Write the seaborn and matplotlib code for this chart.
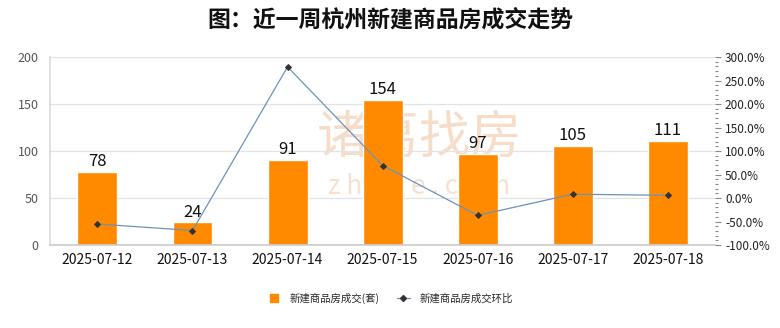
import numpy as np
import pandas as pd
import matplotlib
matplotlib.use("Agg")
import matplotlib.pyplot as plt
from matplotlib.lines import Line2D
from matplotlib.ticker import MultipleLocator, FuncFormatter
import seaborn as sns

dates = ["2025-07-12", "2025-07-13", "2025-07-14", "2025-07-15",
         "2025-07-16", "2025-07-17", "2025-07-18"]
deals = [78, 24, 91, 154, 97, 105, 111]
change_pct = [-55.2, -69.2, 279.2, 69.2, -37.0, 8.2, 5.7]

bar_label = "新建商品房成交(套)"
line_label = "新建商品房成交环比"
title = "图：近一周杭州新建商品房成交走势"

sns.set_theme(style="white")
plt.rcParams["font.family"] = ["Noto Sans CJK SC", "DejaVu Sans"]

df = pd.DataFrame({"date": dates, "deals": deals, "pct": change_pct})

fig = plt.figure(figsize=(7.8, 3.28), dpi=100)
ax = fig.add_axes([0.064, 0.253, 0.853, 0.573])

bar_color = "#FF8A00"
line_color = "#6A93BE"

# faint site watermark behind the bars
ax.text(0.555, 0.57, "诸葛找房", transform=ax.transAxes, ha="center", va="center",
        fontsize=37, color="#F6DDCA", zorder=0)
ax.text(0.555, 0.31, "z h u g e . c o m", transform=ax.transAxes, ha="center",
        va="center", fontsize=19, color="#F6E0D0", zorder=0)

sns.barplot(data=df, x="date", y="deals", color=bar_color, saturation=1,
            width=0.42, ax=ax, zorder=2)
for i, v in enumerate(deals):
    ax.text(i, v + 2, str(v), ha="center", va="bottom", fontsize=12,
            color="#111111", zorder=5)

ax.set_ylim(0, 200)
ax.set_xlim(-0.5, len(dates) - 0.5)
ax.yaxis.set_major_locator(MultipleLocator(50))
ax.grid(axis="y", color="#E3E3E3", linewidth=0.9, zorder=0)
ax.set_axisbelow(True)
ax.set_xlabel("")
ax.set_ylabel("")
for s in ["top", "right"]:
    ax.spines[s].set_visible(False)
ax.spines["left"].set_color("#DDDDDD")
ax.spines["bottom"].set_color("#CCCCCC")
ax.tick_params(axis="y", labelsize=9, labelcolor="#555555", length=0, pad=8)
ax.tick_params(axis="x", labelsize=10, labelcolor="#111111", length=0, pad=6)

ax2 = ax.twinx()
sns.lineplot(x=np.arange(len(dates)), y=change_pct, ax=ax2, color=line_color,
             linewidth=0.9, marker="D", markersize=3.0, markerfacecolor="#333333",
             markeredgecolor="#333333", zorder=6)
ax2.set_xlim(-0.5, len(dates) - 0.5)
ax2.set_ylim(-100, 300)
ax2.yaxis.set_major_locator(MultipleLocator(50))
ax2.yaxis.set_minor_locator(MultipleLocator(10))
ax2.yaxis.set_major_formatter(FuncFormatter(lambda v, p: f"{v:.1f}%"))
for s in ["top", "left", "bottom", "right"]:
    ax2.spines[s].set_visible(False)
ax2.tick_params(axis="y", which="major", labelsize=8.5, labelcolor="#222222",
                length=4, width=0.8, color="#888888", pad=3)
ax2.tick_params(axis="y", which="minor", length=2, width=0.8, color="#888888")
ax2.grid(False)
ax2.set_ylabel("")

fig.suptitle(title, y=0.975, fontsize=16.5, fontweight="bold", color="#111111")

handles = [Line2D([0], [0], linestyle="none", marker="s", markersize=6,
                  markerfacecolor=bar_color, markeredgecolor=bar_color),
           Line2D([0], [0], color=line_color, lw=0.9, marker="D", markersize=3,
                  markerfacecolor="#333333", markeredgecolor="#333333")]
leg = fig.legend(handles, [bar_label, line_label], loc="center",
                 bbox_to_anchor=(0.5, 0.09), ncol=2, frameon=False, fontsize=7.5,
                 handlelength=1.3, columnspacing=1.6, handletextpad=0.9)

fig.savefig("out.png", dpi=100)
